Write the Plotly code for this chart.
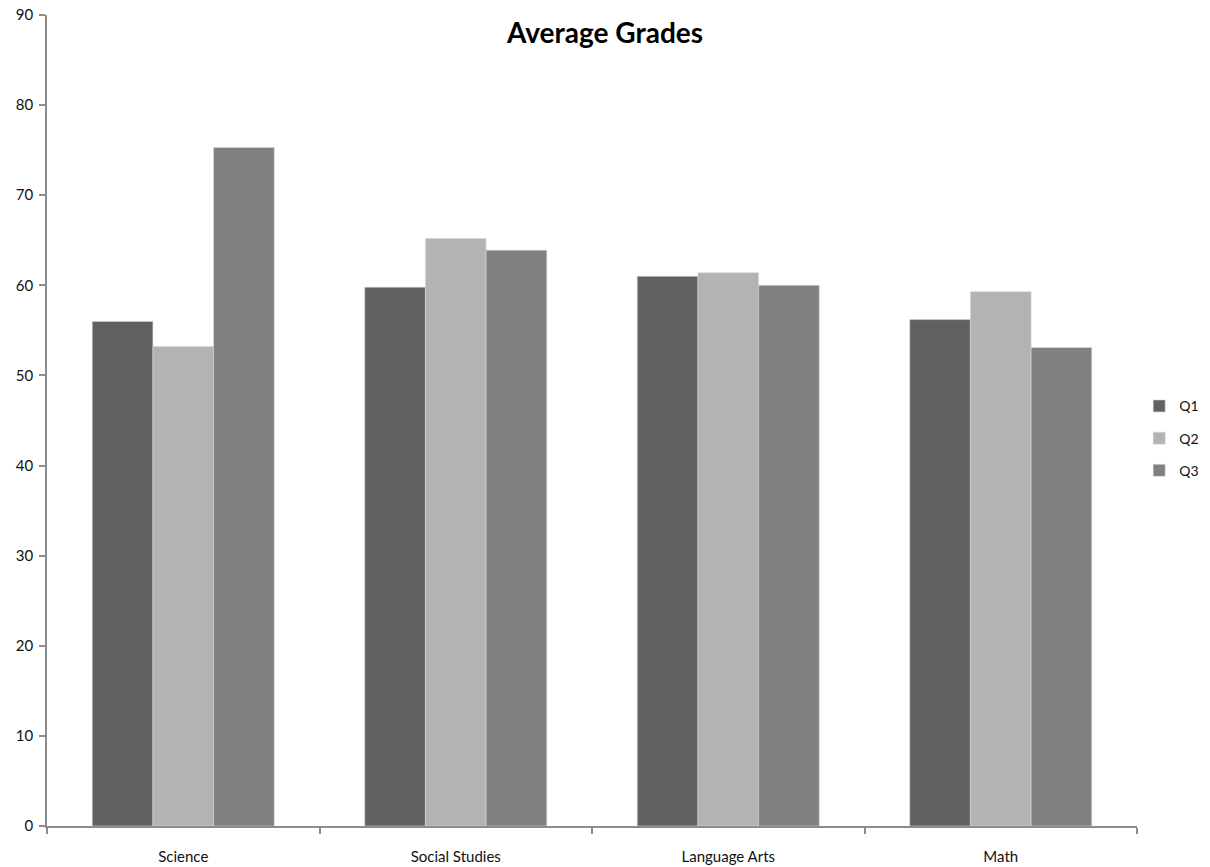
import plotly.graph_objects as go

# Average grade per subject, one series per quarter
subjects = ["Science", "Social Studies", "Language Arts", "Math"]
q1 = [56.0, 59.8, 61.0, 56.2]
q2 = [53.2, 65.2, 61.4, 59.3]
q3 = [75.3, 63.9, 60.0, 53.1]

series = [("Q1", q1, "#616161"), ("Q2", q2, "#b3b3b3"), ("Q3", q3, "#808080")]

fig = go.Figure()
for name, vals, color in series:
    fig.add_trace(go.Bar(
        x=subjects, y=vals, name=name, legendgroup=name,
        marker=dict(color=color, line=dict(color="#d8d8d8", width=0.6)),
    ))

base_font = "Lato, Carlito, Calibri, sans-serif"
axis_font = dict(family=base_font, size=15, color="#111111")
legend_font = dict(family=base_font, size=14, color="#111111")

fig.update_layout(
    width=1210, height=867,
    paper_bgcolor="white", plot_bgcolor="white",
    margin=dict(l=47, r=73, t=15, b=41, autoexpand=False),
    barmode="group", bargap=0.332, bargroupgap=0,
    title=dict(text="<b>Average Grades</b>", x=0.5, xanchor="center",
               y=0.962, yanchor="middle",
               font=dict(family=base_font, size=28, color="#000000")),
    showlegend=True,
    legend=dict(x=1.002, xanchor="left", y=0.478, yanchor="middle",
                font=legend_font, tracegroupgap=11, itemwidth=30,
                bgcolor="rgba(0,0,0,0)"),
    font=axis_font,
)

fig.update_xaxes(
    showline=True, linecolor="#8c8c8c", linewidth=1.5,
    ticks="outside", tickson="boundaries", ticklen=6, tickcolor="#8c8c8c", tickwidth=1.5,
    ticklabelstandoff=16, showgrid=False, tickfont=axis_font,
)
fig.update_yaxes(
    range=[0, 90], dtick=10, showline=True, linecolor="#8c8c8c", linewidth=1.5,
    ticks="outside", ticklen=6, tickcolor="#8c8c8c", tickwidth=1.5,
    ticklabelstandoff=3, showgrid=False, zeroline=False, tickfont=axis_font,
)

fig.write_html("out.html")
